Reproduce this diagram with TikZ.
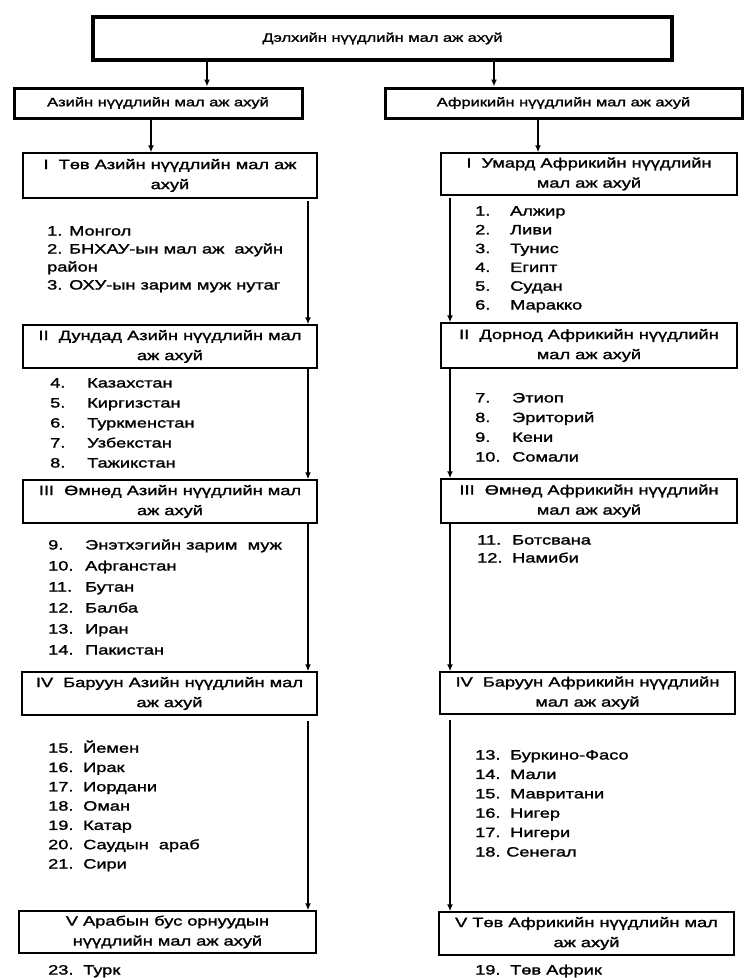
\documentclass[tikz,border=0pt]{standalone}
\usepackage{fontspec}
\setmainfont{Liberation Sans}[FakeStretch=1.35, FakeBold=1.6]
\usetikzlibrary{arrows.meta}
\tikzset{
  bx/.style={draw, line width=1.4pt, minimum width=#1, inner sep=0pt, align=center,
     font=\fontsize{13.5}{20}\selectfont},
  hbx/.style={bx=#1, line width=3pt, minimum height=30pt, font=\fontsize{12.2}{20}\selectfont},
  arr/.style={line width=1.8pt, -{Latex[length=7pt,width=6pt]}},
  lst/.style={anchor=base west, inner sep=0pt, align=left},
}
\newcommand{\itm}[2]{\makebox[#1][l]{#2}}
\newcommand{\lf}[1]{\fontsize{13.5}{#1}\selectfont}
\begin{document}
\begin{tikzpicture}[x=1pt,y=-1pt]
\useasboundingbox (0,0) rectangle (754,978);
% title
\node[bx=579pt, line width=4pt, minimum height=43pt, font=\fontsize{12.2}{20}\selectfont] (title) at (382.5,38.5) {Дэлхийн нүүдлийн мал аж ахуй};
\node[hbx=288pt] (asia) at (158,103) {Азийн нүүдлийн мал аж ахуй};
\node[hbx=357pt] (afr) at (563.5,103) {Африкийн нүүдлийн мал аж ахуй};
% Asia boxes
\node[bx=294pt, minimum height=45pt] (a1) at (170,175.5) {I\ \ Төв Азийн нүүдлийн мал аж\\ахуй};
\node[bx=294pt, minimum height=43pt] (a2) at (170,346.5) {II\ \ Дундад Азийн нүүдлийн мал\\аж ахуй};
\node[bx=294pt, minimum height=43pt] (a3) at (170,501.5) {III\ \ Өмнөд Азийн нүүдлийн мал\\аж ахуй};
\node[bx=295pt, minimum height=43pt] (a4) at (169.5,693.5) {IV\ \ Баруун Азийн нүүдлийн мал\\аж ахуй};
\node[bx=297pt, minimum height=42pt] (a5) at (167.5,932) {V Арабын бус орнуудын\\нүүдлийн мал аж ахуй};
% Africa boxes
\node[bx=296pt, minimum height=42pt] (f1) at (589,174) {I\ \ Умард Африкийн нүүдлийн\\мал аж ахуй};
\node[bx=296pt, minimum height=45pt] (f2) at (589,345.5) {II\ \ Дорнод Африкийн нүүдлийн\\мал аж ахуй};
\node[bx=296pt, minimum height=44pt] (f3) at (589,501) {III\ \ Өмнөд Африкийн нүүдлийн\\мал аж ахуй};
\node[bx=295pt, minimum height=42pt] (f4) at (587.5,693) {IV\ \ Баруун Африкийн нүүдлийн\\мал аж ахуй};
\node[bx=295pt, minimum height=43pt] (f5) at (586.5,933.5) {V Төв Африкийн нүүдлийн мал\\аж ахуй};
% lists Asia (anchored at the baseline of the last line)
\node[lst, font=\lf{18}] (la1) at (47,289.5) {1. Монгол\\2. БНХАУ-ын мал аж\ \ ахуйн\\район\\3. ОХУ-ын зарим муж нутаг};
\node[lst, font=\lf{20}] (la2) at (50,467.5) {\itm{37pt}{4.}Казахстан\\\itm{37pt}{5.}Киргизстан\\\itm{37pt}{6.}Туркменстан\\\itm{37pt}{7.}Узбекстан\\\itm{37pt}{8.}Тажикстан};
\node[lst, font=\lf{21}] (la3) at (48,654.5) {\itm{37pt}{9.}Энэтхэгийн зарим\ \ муж\\\itm{37pt}{10.}Афганстан\\\itm{37pt}{11.}Бутан\\\itm{37pt}{12.}Балба\\\itm{37pt}{13.}Иран\\\itm{37pt}{14.}Пакистан};
\node[lst, font=\lf{19.3}] (la4) at (48,868.5) {\itm{35pt}{15.}Йемен\\\itm{35pt}{16.}Ирак\\\itm{35pt}{17.}Иордани\\\itm{35pt}{18.}Оман\\\itm{35pt}{19.}Катар\\\itm{35pt}{20.}Саудын\ \ араб\\\itm{35pt}{21.}Сири};
\node[lst, font=\lf{19}] (la5) at (48,974.5) {\itm{35pt}{23.}Турк};
% lists Africa
\node[lst, font=\lf{18.8}] (lf1) at (475,309.5) {\itm{35pt}{1.}Алжир\\\itm{35pt}{2.}Ливи\\\itm{35pt}{3.}Тунис\\\itm{35pt}{4.}Египт\\\itm{35pt}{5.}Судан\\\itm{35pt}{6.}Маракко};
\node[lst, font=\lf{19.7}] (lf2) at (475,461.5) {\itm{37pt}{7.}Этиоп\\\itm{37pt}{8.}Эриторий\\\itm{37pt}{9.}Кени\\\itm{37pt}{10.}Сомали};
\node[lst, font=\lf{18}] (lf3) at (477,562.5) {\itm{35pt}{11.}Ботсвана\\\itm{35pt}{12.}Намиби};
\node[lst, font=\lf{19.4}] (lf4) at (475,856.5) {\itm{35pt}{13.}Буркино-Фасо\\\itm{35pt}{14.}Мали\\\itm{35pt}{15.}Мавритани\\\itm{35pt}{16.}Нигер\\\itm{35pt}{17.}Нигери\\\itm{31pt}{18.}Сенегал};
\node[lst, font=\lf{19}] (lf5) at (475,974.5) {\itm{35pt}{19.}Төв Африк};
% connector columns
\coordinate (xl) at (207,0);
\coordinate (xr) at (494,0);
\coordinate (xa) at (151,0);
\coordinate (xf) at (538,0);
\coordinate (xar) at (308,0);
\coordinate (xfl) at (450,0);
\draw[arr] (title.south -| xl) -- (asia.north -| xl);
\draw[arr] (title.south -| xr) -- (afr.north -| xr);
\draw[arr] (asia.south -| xa) -- (a1.north -| xa);
\draw[arr] (afr.south -| xf) -- (f1.north -| xf);
\draw[arr] ([yshift=-2pt]a1.south -| xar) -- (a2.north -| xar);
\draw[arr] (a2.south -| xar) -- (a3.north -| xar);
\draw[arr] (a3.south -| xar) -- (a4.north -| xar);
\draw[arr] ([yshift=-5pt]a4.south -| xar) -- (a5.north -| xar);
\draw[arr] ([yshift=-2pt]f1.south -| xfl) -- (f2.north -| xfl);
\draw[arr] (f2.south -| xfl) -- (f3.north -| xfl);
\draw[arr] (f3.south -| xfl) -- (f4.north -| xfl);
\draw[arr] ([yshift=-5pt]f4.south -| xfl) -- (f5.north -| xfl);
\end{tikzpicture}
\end{document}
